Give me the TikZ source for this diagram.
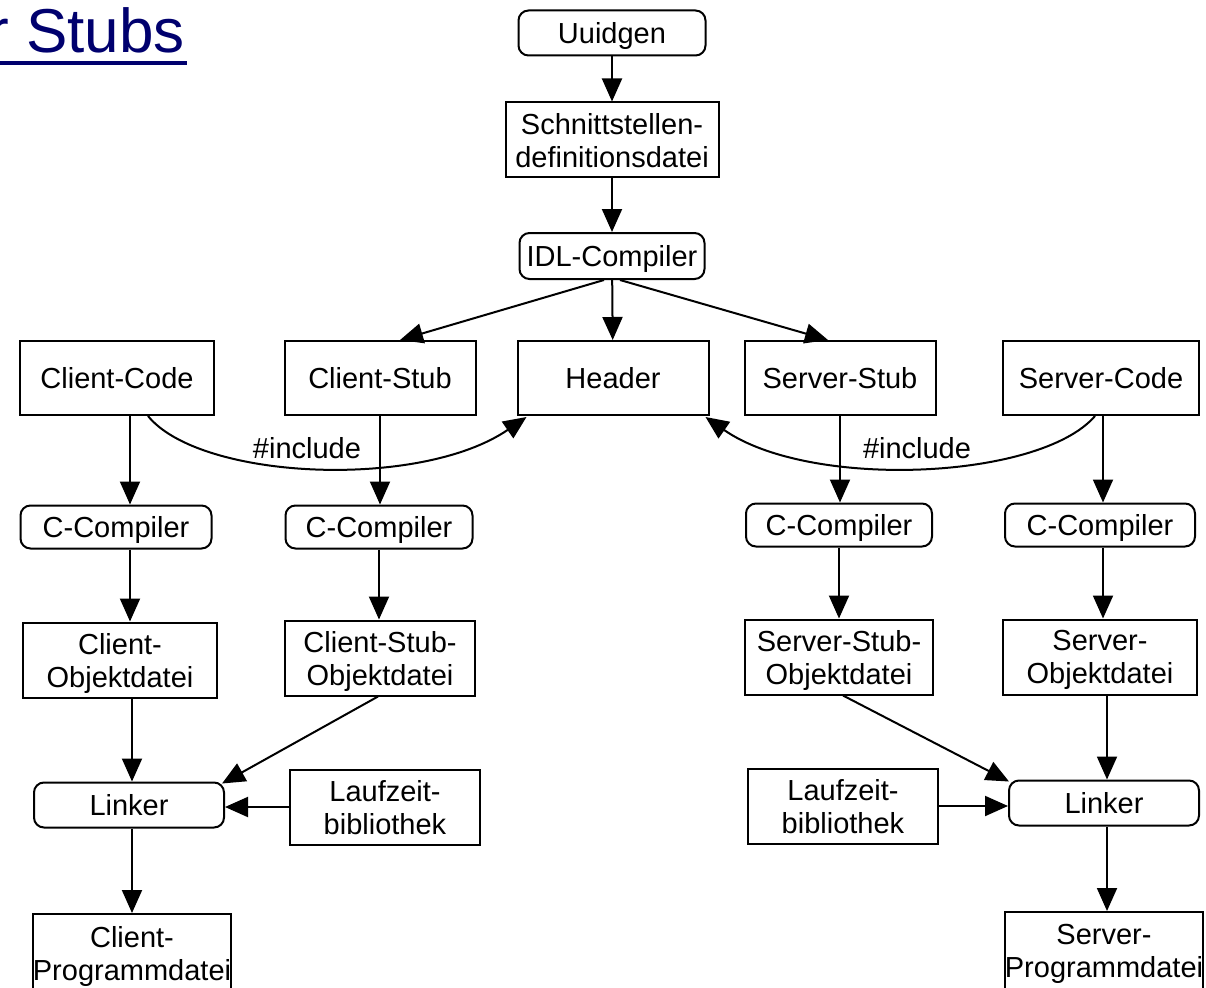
\documentclass[tikz,border=0pt]{standalone}
\usepackage{fontspec}
\setmainfont{Liberation Sans}
\usetikzlibrary{arrows.meta,calc}
\definecolor{titleblue}{RGB}{0,0,110}
\begin{document}
\begin{tikzpicture}[x=1pt,y=-1pt,
  every node/.style={font=\fontsize{29}{33}\selectfont, inner sep=0pt, text depth=0pt, align=center},
  file/.style={draw, line width=2pt, minimum width=192pt, minimum height=74pt},
  tool/.style={draw, line width=2pt, rounded corners=10pt, minimum width=188pt, minimum height=45pt},
  flow/.style={line width=2pt, -{Triangle[length=23pt,width=20pt]}},
]
\useasboundingbox (0,0) rectangle (1206,987);

% heading, cut off at the left edge
\node[font=\fontsize{62}{70}\selectfont, text=titleblue, anchor=base east] (title) at (185,53) {r Stubs};
\fill[titleblue] ($(title.base west)+(0,8)$) rectangle ($(title.base east)+(2,12)$);

% central chain
\node[tool, minimum width=187pt] (uuid) at (612,33) {Uuidgen};
\node[file, minimum width=213pt, minimum height=75pt] (idf) at (612,140) {Schnittstellen-\\definitionsdatei};
\node[tool, minimum width=185pt, minimum height=46pt] (idl) at (612,256) {IDL-Compiler};

% sources
\node[file, minimum width=194pt] (ccode) at (117,378) {Client-Code};
\node[file, minimum width=191pt] (cstub) at (380,378) {Client-Stub};
\node[file, minimum width=191pt] (hdr) at (613,378) {Header};
\node[file, minimum width=191pt] (sstub) at (840,378) {Server-Stub};
\node[file, minimum width=196pt] (scode) at (1101,378) {Server-Code};

% compilers
\node[tool, minimum width=191pt, minimum height=43pt] (cc1) at (116,527) {C-Compiler};
\node[tool, minimum width=187pt, minimum height=43pt] (cc2) at (379,527) {C-Compiler};
\node[tool, minimum width=186pt, minimum height=43pt] (cc3) at (839,525) {C-Compiler};
\node[tool, minimum width=190pt, minimum height=43pt] (cc4) at (1100,525) {C-Compiler};

% object files
\node[file, minimum width=194pt, minimum height=75pt] (cobj) at (120,660) {Client-\\Objektdatei};
\node[file, minimum width=190pt, minimum height=75pt] (csobj) at (380,658) {Client-Stub-\\Objektdatei};
\node[file, minimum width=188pt, minimum height=75pt] (ssobj) at (839,657) {Server-Stub-\\Objektdatei};
\node[file, minimum width=194pt, minimum height=75pt] (sobj) at (1100,657) {Server-\\Objektdatei};

% linking
\node[tool, minimum width=190pt] (link1) at (129,805) {Linker};
\node[file, minimum width=190pt, minimum height=75pt] (lz1) at (385,807) {Laufzeit-\\bibliothek};
\node[file, minimum width=190pt, minimum height=75pt] (lz2) at (843,806) {Laufzeit-\\bibliothek};
\node[tool, minimum width=190pt] (link2) at (1104,803) {Linker};

% programs
\node[file, minimum width=198pt, minimum height=78pt] (cprog) at (132,953) {Client-\\Programmdatei};
\node[file, minimum width=193pt, minimum height=78pt] (sprog) at (1104,951) {Server-\\Programmdatei};

% include labels
\node (inc1) at (307,448) {\#include};
\node (inc2) at (917,448) {\#include};

% connectors: generation
\draw[flow] (uuid) -- (idf);
\draw[flow] (idf) -- (idl);
\draw[flow] (idl) -- (hdr);
\draw[flow] ($(idl.south)+(-8,0)$) -- ($(cstub.north)+(20,0)$);
\draw[flow] ($(idl.south)+(8,0)$) -- ($(sstub.north)+(-12,0)$);

% includes
\draw[flow] ($(ccode.south)+(31,0)$) .. controls (200,480) and (420,490) .. ($(hdr.south west)+(10,1)$);
\draw[flow] ($(scode.south)+(-6,0)$) .. controls (1040,480) and (810,490) .. ($(hdr.south east)+(-4,1)$);

% client side
\coordinate (a1) at ($(ccode.south)+(13,0)$);
\draw[flow] (a1) -- (a1 |- cc1.north);
\coordinate (a2) at ($(cc1.south)+(14,0)$);
\draw[flow] (a2) -- (a2 |- cobj.north);
\coordinate (a3) at ($(cobj.south)+(12,0)$);
\draw[flow] (a3) -- (a3 |- link1.north);
\coordinate (a4) at ($(link1.south)+(3,0)$);
\draw[flow] (a4) -- (a4 |- cprog.north);
\draw[flow] (cstub.south) -- (cstub.south |- cc2.north);
\draw[flow] (cc2.south) -- (cc2.south |- csobj.north);
\draw[flow] ($(csobj.south)+(-2,0)$) -- ($(link1.north east)+(-3,2)$);
\draw[flow] (lz1.west) -- (lz1.west -| link1.east);

% server side
\draw[flow] (sstub.south) -- (sstub.south |- cc3.north);
\draw[flow] (cc3.south) -- (cc3.south |- ssobj.north);
\coordinate (b1) at ($(scode.south)+(2,0)$);
\draw[flow] (b1) -- (b1 |- cc4.north);
\coordinate (b2) at ($(cc4.south)+(3,0)$);
\draw[flow] (b2) -- (b2 |- sobj.north);
\coordinate (b3) at ($(sobj.south)+(7,0)$);
\draw[flow] (b3) -- (b3 |- link2.north);
\coordinate (b4) at ($(link2.south)+(3,0)$);
\draw[flow] (b4) -- (b4 |- sprog.north);
\draw[flow] ($(ssobj.south)+(4,0)$) -- ($(link2.north west)+(1,2)$);
\draw[flow] (lz2.east) -- (lz2.east -| link2.west);
\end{tikzpicture}
\end{document}
